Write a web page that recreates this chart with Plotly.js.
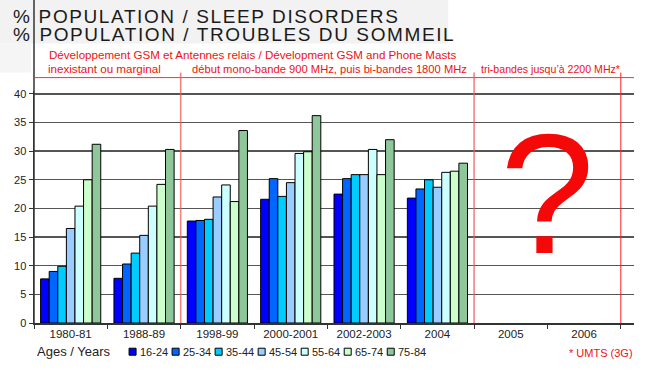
<!DOCTYPE html>
<html><head><meta charset="utf-8">
<script src="https://cdn.plot.ly/plotly-3.0.1.min.js"></script>
<style>html,body{margin:0;padding:0;background:#fff}#chart{width:650px;height:376px}
g.annotation[data-index="2"] text, g.annotation[data-index="3"] text{letter-spacing:1.6px}
</style>
</head><body><div id="chart"></div>
<script>
const categories = ['1980-81','1988-89','1998-99','2000-2001','2002-2003','2004','2005','2006'];
const ages = ['16-24','25-34','35-44','45-54','55-64','65-74','75-84'];
const v1624 = [7.7, 7.8, 17.8, 21.6, 22.5, 21.8, null, null];
const v2534 = [9.0, 10.3, 17.9, 25.2, 25.2, 23.4, null, null];
const v3544 = [9.9, 12.2, 18.1, 22.1, 25.9, 25.0, null, null];
const v4554 = [16.5, 15.3, 22.0, 24.5, 25.9, 23.7, null, null];
const v5564 = [20.4, 20.4, 24.1, 29.6, 30.3, 26.3, null, null];
const v6574 = [25.0, 24.2, 21.2, 29.9, 25.9, 26.5, null, null];
const v7584 = [31.2, 30.3, 33.6, 36.2, 32.0, 27.9, null, null];
const seriesValues = [v1624, v2534, v3544, v4554, v5564, v6574, v7584];
const colors = ['#0000ff','#0066ff','#00ccff','#99ccff','#ccffff','#ccffcc','#8ec79a'];
const periodBounds = [-0.5, 1.5, 5.5, 7.5];

const NARROW = '"Liberation Sans", Arial, sans-serif';
const ARIAL = '"Liberation Sans", Arial, sans-serif';

const L = 34, R = 633.6, B = 323.3, T = 91.4;
const px = x => (x - L) / (R - L);
const py = y => (B - y) / (B - T);

const traces = ages.map((a, i) => ({
  type: 'bar', name: a, x: categories, y: seriesValues[i],
  marker: {color: colors[i], line: {color: '#000', width: 1}},
  hoverinfo: 'x+y+name'
}));

const shapes = [
  {type:'rect', xref:'paper', yref:'paper', x0:px(0), x1:px(448), y0:py(0), y1:py(44), fillcolor:'#f2f2f2', line:{width:0}, layer:'below'},
  {type:'rect', xref:'paper', yref:'paper', x0:px(0), x1:px(31), y0:py(44), y1:py(73), fillcolor:'#f5f5f5', line:{width:0}, layer:'below'},
  {type:'line', xref:'paper', yref:'paper', x0:0, x1:0, y0:0, y1:py(0), line:{color:'#333', width:1.5}},
  {type:'line', xref:'x', yref:'paper', x0:-0.5, x1:7.72, y0:py(78), y1:py(78), line:{color:'#ff3030', width:1}}
];
periodBounds.slice(1).forEach((b, i) => {
  shapes.push({type:'line', xref:'x', yref:'paper', x0:b, x1:b, y0:0, y1:py(73),
    line:{color: i < 2 ? 'rgba(240,90,90,0.75)' : '#ff2020', width: i < 2 ? 1.6 : 1}});
});

const RED = '#ee1111';
const LS = 1.6;
const t1 = 'POPULATION / SLEEP DISORDERS';
const t2 = 'POPULATION / TROUBLES DU SOMMEIL';
const annotations = [
  {text:'%', xref:'paper', yref:'paper', x:px(32), y:py(16.5), xanchor:'right', yanchor:'middle', showarrow:false, font:{family:ARIAL, size:19, color:'#1a1a1a'}},
  {text:'%', xref:'paper', yref:'paper', x:px(32), y:py(35), xanchor:'right', yanchor:'middle', showarrow:false, font:{family:ARIAL, size:19, color:'#1a1a1a'}},
  {text:t1, xref:'paper', yref:'paper', x:px(37), xshift:t1.length*LS/2, y:py(16.5), xanchor:'left', yanchor:'middle', showarrow:false, font:{family:ARIAL, size:19, color:'#1a1a1a'}},
  {text:t2, xref:'paper', yref:'paper', x:px(37), xshift:t2.length*LS/2, y:py(35), xanchor:'left', yanchor:'middle', showarrow:false, font:{family:ARIAL, size:19, color:'#1a1a1a'}},
  {text:'Développement GSM et Antennes relais / Dévelopment GSM and Phone Masts', xref:'paper', yref:'paper', x:px(252), y:py(55), xanchor:'center', yanchor:'middle', showarrow:false, font:{family:NARROW, size:11.6, color:RED}},
  {text:'inexistant ou marginal', xref:'paper', yref:'paper', x:px(104), y:py(69), xanchor:'center', yanchor:'middle', showarrow:false, font:{family:NARROW, size:11.6, color:RED}},
  {text:'début mono-bande 900 MHz, puis bi-bandes 1800 MHz', xref:'paper', yref:'paper', x:px(329), y:py(69), xanchor:'center', yanchor:'middle', showarrow:false, font:{family:NARROW, size:11.2, color:RED}},
  {text:'tri-bandes jusqu\u2019à 2200 MHz*', xref:'paper', yref:'paper', x:px(550), y:py(69), xanchor:'center', yanchor:'middle', showarrow:false, font:{family:NARROW, size:10.6, color:RED}},
  {text:'?', xref:'x', yref:'y', x:6.5, y:22.6, xanchor:'center', yanchor:'middle', showarrow:false, font:{family:ARIAL, size:170, color:'#f50808'}},
  {text:'Ages / Years', xref:'paper', yref:'paper', x:px(35), y:py(352), xanchor:'left', yanchor:'middle', showarrow:false, font:{family:ARIAL, size:13, color:'#222'}},
  {text:'* UMTS (3G)', xref:'paper', yref:'paper', x:px(567), y:py(353), xanchor:'left', yanchor:'middle', showarrow:false, font:{family:NARROW, size:11, color:RED}}
];
const yArrow = (B - 78) / ((B - T) / 40.5);
for (let i = 0; i < periodBounds.length - 1; i++) {
  annotations.push({text:'', xref:'x', yref:'y', axref:'x', ayref:'y',
    x: periodBounds[i+1], y: yArrow, ax: periodBounds[i], ay: yArrow,
    showarrow:true, arrowside:'end+start', arrowhead:2, arrowsize:0.9, arrowwidth:1, arrowcolor:'#ff2020', standoff:0, startstandoff:0});
}
ages.forEach((a, i) => {
  const x0 = 129 + 43 * i;
  shapes.push({type:'rect', xref:'paper', yref:'paper', x0:px(x0), x1:px(x0+7), y0:py(348.5), y1:py(355.5), fillcolor:colors[i], line:{color:'#000', width:1}});
  annotations.push({text:a, xref:'paper', yref:'paper', x:px(x0+8.5), y:py(352), xanchor:'left', yanchor:'middle', showarrow:false, font:{family:NARROW, size:11, color:'#222'}});
});

const layout = {
  width:650, height:376,
  margin:{l:L, r:650-R, t:T, b:376-B, pad:0},
  paper_bgcolor:'#fff', plot_bgcolor:'#fff',
  showlegend:false, barmode:'group', bargap:0.18, bargroupgap:0,
  xaxis:{type:'category', categoryarray:categories, categoryorder:'array', range:[-0.5, 7.68],
    tickson:'boundaries', ticks:'outside', ticklen:4, tickcolor:'#333', tickwidth:1,
    showline:true, linecolor:'#333', linewidth:1.5, showgrid:false, zeroline:false,
    tickfont:{family:NARROW, size:11.5, color:'#222'}, fixedrange:true},
  yaxis:{range:[0, 40.5], tick0:0, dtick:5, ticks:'outside', ticklen:4, tickcolor:'#333',
    showline:true, linecolor:'#333', linewidth:1.5, showgrid:true, gridcolor:'#555', gridwidth:1.4,
    zeroline:false, tickfont:{family:ARIAL, size:11, color:'#222'}, fixedrange:true},
  shapes: shapes, annotations: annotations
};
Plotly.newPlot('chart', traces, layout, {displayModeBar:false, staticPlot:true});
</script></body></html>
